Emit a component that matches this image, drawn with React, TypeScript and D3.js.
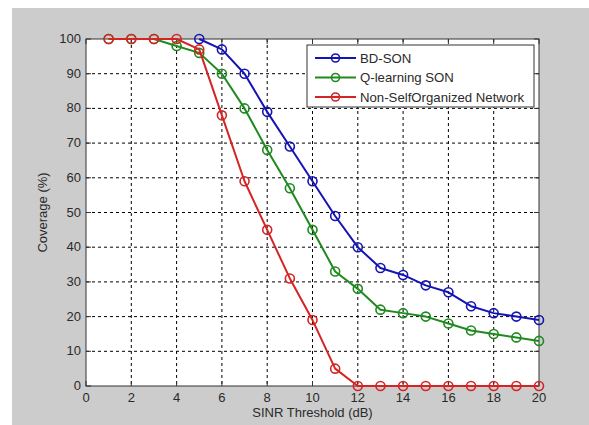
import React, { useRef, useEffect } from 'react';
import * as d3 from 'd3';

const thresholds = [1, 2, 3, 4, 5, 6, 7, 8, 9, 10, 11, 12, 13, 14, 15, 16, 17, 18, 19, 20];
const bdSon = [null, null, null, null, 100, 97, 90, 79, 69, 59, 49, 40, 34, 32, 29, 27, 23, 21, 20, 19];
const qLearning = [100, 100, 100, 98, 96, 90, 80, 68, 57, 45, 33, 28, 22, 21, 20, 18, 16, 15, 14, 13];
const nonSon = [100, 100, 100, 100, 97, 78, 59, 45, 31, 19, 5, 0, 0, 0, 0, 0, 0, 0, 0, 0];

const xTicks = [0, 2, 4, 6, 8, 10, 12, 14, 16, 18, 20];
const yTicks = [0, 10, 20, 30, 40, 50, 60, 70, 80, 90, 100];

const series = [
  { name: 'BD-SON', values: bdSon, color: '#1414b4' },
  { name: 'Q-learning SON', values: qLearning, color: '#1f8a1f' },
  { name: 'Non-SelfOrganized Network', values: nonSon, color: '#d42424' },
];

const W = 589;
const H = 425;
const margin = { left: 86, right: 50, top: 39, bottom: 39 };

const App = () => {
  const svgRef = useRef<SVGSVGElement>(null);

  useEffect(() => {
    const svg = d3.select(svgRef.current);
    svg.selectAll('*').remove();

    const font = '"Liberation Sans", Arial, sans-serif';
    const x = d3.scaleLinear().domain([0, 20]).range([margin.left, W - margin.right]);
    const y = d3.scaleLinear().domain([0, 100]).range([H - margin.bottom, margin.top]);
    const [x0, x1] = x.range();
    const [y0, y1] = y.range();

    // figure background
    svg.append('rect').attr('x', 0).attr('y', 0).attr('width', W).attr('height', H).attr('fill', '#fff');
    svg.append('rect').attr('x', 12).attr('y', 8).attr('width', W - 12).attr('height', H - 8).attr('fill', '#cccccc');

    // plot area
    svg.append('rect').attr('x', x0).attr('y', y1).attr('width', x1 - x0).attr('height', y0 - y1).attr('fill', '#fff');

    // grid
    svg.append('g').selectAll('line').data(xTicks.slice(1, -1)).join('line')
      .attr('x1', d => x(d)).attr('x2', d => x(d)).attr('y1', y1).attr('y2', y0)
      .attr('stroke', '#000').attr('stroke-width', 1).attr('stroke-dasharray', '3,3');
    svg.append('g').selectAll('line').data(yTicks.slice(1, -1)).join('line')
      .attr('y1', d => y(d)).attr('y2', d => y(d)).attr('x1', x0).attr('x2', x1)
      .attr('stroke', '#000').attr('stroke-width', 1).attr('stroke-dasharray', '3,3');

    // inward ticks on all four sides
    const tk = 5;
    const ticks = svg.append('g').attr('stroke', '#333').attr('stroke-width', 1);
    xTicks.forEach(t => {
      ticks.append('line').attr('x1', x(t)).attr('x2', x(t)).attr('y1', y0).attr('y2', y0 - tk);
      ticks.append('line').attr('x1', x(t)).attr('x2', x(t)).attr('y1', y1).attr('y2', y1 + tk);
    });
    yTicks.forEach(t => {
      ticks.append('line').attr('y1', y(t)).attr('y2', y(t)).attr('x1', x0).attr('x2', x0 + tk);
      ticks.append('line').attr('y1', y(t)).attr('y2', y(t)).attr('x1', x1).attr('x2', x1 - tk);
    });

    svg.append('rect').attr('x', x0).attr('y', y1).attr('width', x1 - x0).attr('height', y0 - y1)
      .attr('fill', 'none').attr('stroke', '#333').attr('stroke-width', 1);

    // tick labels
    svg.append('g').selectAll('text').data(xTicks).join('text')
      .attr('x', d => x(d)).attr('y', y0 + 16).attr('text-anchor', 'middle')
      .attr('font-size', 13).attr('font-family', font).attr('fill', '#2a2a2a').text(d => d);
    svg.append('g').selectAll('text').data(yTicks).join('text')
      .attr('x', x0 - 5).attr('y', d => y(d) + 4).attr('text-anchor', 'end')
      .attr('font-size', 13).attr('font-family', font).attr('fill', '#2a2a2a').text(d => d);

    // axis titles
    svg.append('text').attr('x', (x0 + x1) / 2).attr('y', y0 + 31).attr('text-anchor', 'middle')
      .attr('font-size', 13).attr('font-family', font).attr('fill', '#2a2a2a').text('SINR Threshold (dB)');
    svg.append('text').attr('transform', `translate(47,${(y0 + y1) / 2}) rotate(-90)`).attr('text-anchor', 'middle')
      .attr('font-size', 13).attr('font-family', font).attr('fill', '#2a2a2a').text('Coverage (%)');

    // series
    const line = d3.line<[number, number | null]>()
      .defined(d => d[1] !== null)
      .x(d => x(d[0]))
      .y(d => y(d[1] as number));

    series.forEach(s => {
      const pts = thresholds.map((t, i) => [t, s.values[i]] as [number, number | null]);
      const g = svg.append('g');
      g.append('path').datum(pts).attr('d', line)
        .attr('fill', 'none').attr('stroke', s.color).attr('stroke-width', 2).attr('stroke-linejoin', 'round');
      g.selectAll('circle').data(pts.filter(p => p[1] !== null)).join('circle')
        .attr('cx', d => x(d[0])).attr('cy', d => y(d[1] as number)).attr('r', 4.5)
        .attr('fill', 'none').attr('stroke', s.color).attr('stroke-width', 1.6);
    });

    // legend
    const lg = svg.append('g');
    lg.append('rect').attr('x', 307).attr('y', 45).attr('width', 227).attr('height', 62)
      .attr('fill', '#fff').attr('stroke', '#333').attr('stroke-width', 1);
    series.forEach((s, i) => {
      const ly = 58 + i * 19.5;
      lg.append('line').attr('x1', 315).attr('x2', 356).attr('y1', ly).attr('y2', ly)
        .attr('stroke', s.color).attr('stroke-width', 2);
      lg.append('circle').attr('cx', 335.5).attr('cy', ly).attr('r', 4)
        .attr('fill', 'none').attr('stroke', s.color).attr('stroke-width', 1.6);
      lg.append('text').attr('x', 360).attr('y', ly + 4.5)
        .attr('font-size', 13.2).attr('font-family', font).attr('fill', '#2a2a2a').text(s.name);
    });
  }, []);

  return (
    <svg ref={svgRef} width={W} height={H} style={{ position: 'absolute', left: 0, top: 0 }}></svg>
  );
};

export default App;
